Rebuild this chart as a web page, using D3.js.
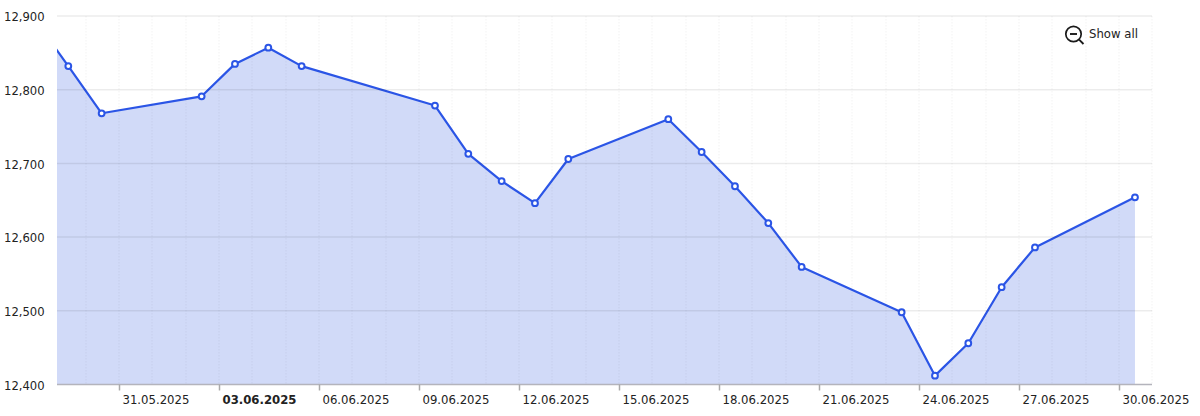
<!DOCTYPE html>
<html><head><meta charset="utf-8">
<script src="https://cdn.jsdelivr.net/npm/d3@7/dist/d3.min.js"></script>
<style>
html,body{margin:0;padding:0;background:#fff}
svg{display:block}
text{font-family:"DejaVu Sans",sans-serif;fill:#222}
</style></head><body><div id="chart"></div>
<script>
const dates=["2025-05-28","2025-05-29","2025-05-30","2025-06-02","2025-06-03","2025-06-04","2025-06-05","2025-06-09","2025-06-10","2025-06-11","2025-06-12","2025-06-13","2025-06-16","2025-06-17","2025-06-18","2025-06-19","2025-06-20","2025-06-23","2025-06-24","2025-06-25","2025-06-26","2025-06-27","2025-06-30"];
const values=[12895,12832,12768,12791,12835,12857,12832,12778.5,12713,12676,12646,12706,12760,12715.5,12669,12619,12559.5,12498,12412,12456,12532,12586,12654];
const yTicks=[12400,12500,12600,12700,12800,12900];
const xTickDates=["2025-05-31","2025-06-03","2025-06-06","2025-06-09","2025-06-12","2025-06-15","2025-06-18","2025-06-21","2025-06-24","2025-06-27","2025-06-30"];
const boldTick="2025-06-03";
const showAll="Show all";

const W=1200,H=416,L=57,R=1152,T=16,B=384.5;
const day=d=>new Date(d+"T00:00:00Z");
const noon=d=>new Date(d+"T11:30:00Z");
const x=d3.scaleUtc().domain([day("2025-05-31"),day("2025-06-30")]).range([119,1119]);
const y=d3.scaleLinear().domain([12400,12900]).range([B,T]);
const pts=dates.map((d,i)=>({t:noon(d),v:values[i]}));
const svg=d3.select("#chart").append("svg").attr("width",W).attr("height",H);
svg.append("defs").append("clipPath").attr("id","c").append("rect").attr("x",L).attr("y",0).attr("width",R-L).attr("height",B);

const days=d3.utcDay.range(x.invert(L),x.invert(R+2)).filter(d=>x(d)>=L+1);
const g=svg.append("g").attr("clip-path","url(#c)");
g.append("path").datum(pts).attr("fill","#d1daf8")
 .attr("d",d3.area().x(d=>x(d.t)).y0(B).y1(d=>y(d.v)));
const majors=new Set(xTickDates.map(d=>+day(d)));
svg.append("g").selectAll("line").data(days).join("line")
 .attr("x1",d=>Math.round(x(d))).attr("x2",d=>Math.round(x(d))).attr("y1",T).attr("y2",B)
 .attr("stroke","#000").attr("stroke-width",1.5).attr("stroke-opacity",d=>majors.has(+d)?0.04:0.03).attr("stroke-dasharray","1.5 1.5");
svg.append("g").selectAll("line").data(yTicks.filter(v=>v>12400)).join("line")
 .attr("x1",L).attr("x2",R).attr("y1",d=>y(d)).attr("y2",d=>y(d))
 .attr("stroke","#000").attr("stroke-width",1.5).attr("stroke-opacity",0.075);
g.append("path").datum(pts).attr("fill","none").attr("stroke","#2b55e6").attr("stroke-width",2.2).attr("stroke-linejoin","round")
 .attr("d",d3.line().x(d=>x(d.t)).y(d=>y(d.v)));
g.selectAll("circle").data(pts).join("circle").attr("cx",d=>x(d.t)).attr("cy",d=>y(d.v)).attr("r",2.9)
 .attr("fill","#fff").attr("stroke","#2b55e6").attr("stroke-width",2);
const ax=svg.append("g").attr("transform",`translate(0,${B})`)
 .call(d3.axisBottom(x).tickValues(xTickDates.map(day)).tickSize(6).tickFormat(d3.utcFormat("%d.%m.%Y")));
ax.select(".domain").attr("d",`M${L},0H${R}`).attr("stroke","#b4b4bc").attr("stroke-width",1.5);
ax.selectAll(".tick line").attr("stroke","#aaa").attr("stroke-width",1.5).attr("x1",0).attr("x2",0).attr("y1",0).attr("y2",6);
ax.selectAll(".tick text").attr("text-anchor","start").attr("x",3).attr("y",11).attr("dy","0.71em")
 .style("font-family",'"DejaVu Sans",sans-serif').style("font-size","11.7px").style("fill","#222")
 .style("font-weight",d=>+d===+day(boldTick)?"bold":"normal");
const ay=svg.append("g").attr("transform",`translate(${L},0)`)
 .call(d3.axisLeft(y).tickValues(yTicks).tickSize(0).tickFormat(d3.format(",")));
ay.select(".domain").remove();
ay.selectAll(".tick text").style("font-family",'"DejaVu Sans",sans-serif').style("font-size","11.6px").style("fill","#222").attr("text-anchor","start").attr("x",-53).attr("dy","0.42em");
const z=svg.append("g").attr("transform","translate(1073.5,34)").attr("fill","none").attr("stroke","#1a1a1a");
z.append("circle").attr("r",7.7).attr("stroke-width",1.7);
z.append("path").attr("d","M-3.5,0H3.5").attr("stroke-width",1.9);
z.append("path").attr("d","M5.6,5.6L10,10").attr("stroke-width",1.9);
svg.append("text").attr("x",1089).attr("y",38).style("font-size","11.7px").text(showAll);
</script></body></html>
